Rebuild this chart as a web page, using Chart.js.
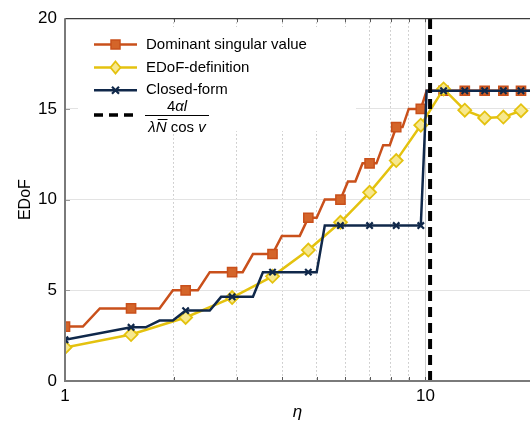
<!DOCTYPE html>
<html>
<head>
<meta charset="utf-8">
<script src="https://cdn.jsdelivr.net/npm/chart.js@4/dist/chart.umd.min.js"></script>
<style>
  html, body { margin: 0; padding: 0; background: #fff; overflow: hidden; }
  #wrap { width: 530px; height: 428px; }
</style>
</head>
<body>
<div id="wrap"><canvas id="edof" width="530" height="428"></canvas></div>
<script>
// Sample grid of eta values (shared by all series)
const ETA = [1.000, 1.121, 1.249, 1.384, 1.525, 1.674, 1.829, 1.992, 2.161, 2.337,
             2.521, 2.711, 2.908, 3.111, 3.322, 3.540, 3.764, 3.996, 4.234, 4.480,
             4.732, 4.991, 5.257, 5.530, 5.810, 6.096, 6.390, 6.691, 6.998, 7.312,
             7.634, 7.962, 8.297, 8.639, 8.988, 9.343, 9.706, 10.076, 10.452, 10.836,
             11.226, 11.623, 12.027, 12.438, 12.856, 13.281, 13.713, 14.152, 14.597, 15.050,
             15.509, 15.975, 16.449, 16.929, 17.416, 17.910, 18.410, 18.918, 19.433, 19.954,
             20.483];

// EDoF from the dominant singular values
const DOMINANT = [3, 3, 4, 4, 4, 4, 4, 5, 5, 5,
                  6, 6, 6, 6, 7, 7, 7, 8, 8, 8,
                  9, 9, 10, 10, 10, 11, 11, 12, 12, 12,
                  13, 13, 14, 14, 15, 15, 15, 16, 16, 16,
                  16, 16, 16, 16, 16, 16, 16, 16, 16, 16,
                  16, 16, 16, 16, 16, 16, 16, 16, 16, 16,
                  16];

// EDoF from its definition (evaluated every fourth grid point)
const EDOF_DEF = [1.85, null, null, null, 2.56, null, null, null, 3.5, null,
                  null, null, 4.6, null, null, null, 5.77, null, null, null,
                  7.22, null, null, null, 8.75, null, null, null, 10.4, null,
                  null, null, 12.15, null, null, null, 14.1, null, null, null,
                  16.1, null, null, null, 14.93, null, null, null, 14.5, null,
                  null, null, 14.55, null, null, null, 14.9, null, null, null,
                  15.45];

// Closed-form EDoF
const CLOSED_FORM = [2.27, null, null, null, 2.96, 2.96, 3.33, 3.33, 3.88, 3.88,
                     3.88, 4.64, 4.64, 4.64, 4.64, 6.0, 6.0, 6.0, 6.0, 6.0,
                     6.0, 6.0, 8.57, 8.57, 8.57, 8.57, 8.57, 8.57, 8.57, 8.57,
                     8.57, 8.57, 8.57, 8.57, 8.57, 8.57, 8.57, 16, 16, 16,
                     16, 16, 16, 16, 16, 16, 16, 16, 16, 16,
                     16, 16, 16, 16, 16, 16, 16, 16, 16, 16,
                     16];

// Aperture limit 4αl / (λN̄ cos v)
const LIMIT_ETA = 10.3;

const X_MIN = 1, X_MAX = 19.5;
const X_TICKS = [1, 2, 3, 4, 5, 6, 7, 8, 9, 10];
const X_LABELS = { 1: '1', 10: '10' };
const Y_TICKS = [0, 5, 10, 15, 20];

const SERIES_NAMES = ['Dominant singular value', 'EDoF-definition', 'Closed-form'];

const FONT = "'Liberation Sans', Arial, sans-serif";
const C_ORANGE = '#C9501B';
const C_ORANGE_FILL = '#D4652A';
const C_YELLOW = '#E4C20F';
const C_YELLOW_FILL = '#F7E88E';
const C_NAVY = '#10284A';
const MARK_EVERY = 4;

function toPoints(values) {
  return ETA.map((x, i) => ({ x: x, y: values[i] }));
}
function markerRadius(r) {
  return (ctx) => (ctx.dataIndex % MARK_EVERY === 0 ? r : 0);
}

// Box frame, inner tick marks
const framePlugin = {
  id: 'frame',
  afterDatasetsDraw(chart) {
    const { ctx, chartArea: a, scales } = chart;
    ctx.save();
    ctx.strokeStyle = '#5a5a5a';
    ctx.lineWidth = 1;
    X_TICKS.forEach(v => {
      if (v === 1) return;
      const px = Math.round(scales.x.getPixelForValue(v)) + 0.5;
      ctx.beginPath();
      ctx.moveTo(px, a.bottom); ctx.lineTo(px, a.bottom - 4);
      ctx.moveTo(px, a.top); ctx.lineTo(px, a.top + 4);
      ctx.stroke();
    });
    ctx.strokeStyle = '#9a9a9a';
    Y_TICKS.forEach(v => {
      if (v === 0 || v === 20) return;
      const py = Math.round(scales.y.getPixelForValue(v)) + 0.5;
      ctx.beginPath();
      ctx.moveTo(a.left, py); ctx.lineTo(a.left + 5, py);
      ctx.stroke();
    });
    ctx.strokeStyle = '#3c3c3c';
    ctx.lineWidth = 1.2;
    ctx.beginPath();
    ctx.moveTo(a.left, a.top + 0.5); ctx.lineTo(a.right, a.top + 0.5);
    ctx.stroke();
    ctx.strokeStyle = '#7a7a7a';
    ctx.lineWidth = 2;
    ctx.beginPath();
    ctx.moveTo(a.left, a.top); ctx.lineTo(a.left, a.bottom); ctx.lineTo(a.right, a.bottom);
    ctx.stroke();
    ctx.restore();
  }
};

// Legend inside the axes, including the formula entry
const boxLegendPlugin = {
  id: 'boxLegend',
  afterDraw(chart) {
    const c = chart.ctx;
    c.save();
    c.fillStyle = '#ffffff';
    c.fillRect(78, 27, 278, 104);

    const x0 = 94, x1 = 137, xm = 115.5, tx = 146;
    const rows = [44.5, 67.5, 90.3];
    const colors = [C_ORANGE, C_YELLOW, C_NAVY];
    c.lineWidth = 2.5;
    rows.forEach((y, i) => {
      c.strokeStyle = colors[i];
      c.setLineDash([]);
      c.beginPath(); c.moveTo(x0, y); c.lineTo(x1, y); c.stroke();
    });
    // square
    c.fillStyle = C_ORANGE_FILL; c.strokeStyle = C_ORANGE; c.lineWidth = 1.5;
    c.fillRect(xm - 4.5, rows[0] - 4.5, 9, 9); c.strokeRect(xm - 4.5, rows[0] - 4.5, 9, 9);
    // diamond
    c.fillStyle = C_YELLOW_FILL; c.strokeStyle = C_YELLOW; c.lineWidth = 1.8;
    c.beginPath();
    c.moveTo(xm, rows[1] - 6); c.lineTo(xm + 5, rows[1]); c.lineTo(xm, rows[1] + 6); c.lineTo(xm - 5, rows[1]);
    c.closePath(); c.fill(); c.stroke();
    // cross
    c.strokeStyle = C_NAVY; c.lineWidth = 2.2;
    c.beginPath();
    c.moveTo(xm - 3.5, rows[2] - 3.5); c.lineTo(xm + 3.5, rows[2] + 3.5);
    c.moveTo(xm + 3.5, rows[2] - 3.5); c.lineTo(xm - 3.5, rows[2] + 3.5);
    c.stroke();

    c.fillStyle = '#000';
    c.font = '15px ' + FONT;
    c.textBaseline = 'middle';
    c.textAlign = 'left';
    SERIES_NAMES.forEach((t, i) => c.fillText(t, tx, rows[i]));

    // dashed entry
    const yd = 115;
    c.strokeStyle = '#000'; c.lineWidth = 3.5;
    c.setLineDash([9, 6]);
    c.beginPath(); c.moveTo(x0, yd); c.lineTo(x1 + 1, yd); c.stroke();
    c.setLineDash([]);

    // fraction 4αl / (λN̄ cos v)
    const fx0 = 145, fx1 = 209, fc = (fx0 + fx1) / 2;
    c.lineWidth = 1; c.strokeStyle = '#000';
    c.beginPath(); c.moveTo(fx0, yd + 0.5); c.lineTo(fx1, yd + 0.5); c.stroke();
    c.textBaseline = 'alphabetic';
    const up = '15px ' + FONT, it = 'italic 15px ' + FONT;
    function run(parts, baseline) {
      let w = 0;
      parts.forEach(p => { c.font = p[1]; w += c.measureText(p[0]).width; });
      let x = fc - w / 2;
      const pos = [];
      parts.forEach(p => {
        c.font = p[1];
        c.fillText(p[0], x, baseline);
        const pw = c.measureText(p[0]).width;
        pos.push([x, pw]);
        x += pw;
      });
      return pos;
    }
    run([['4', up], ['αl', it]], yd - 4);
    const dp = run([['λ', it], ['N', it], [' cos ', up], ['v', it]], yd + 17);
    // bar over N
    c.beginPath();
    c.moveTo(dp[1][0] + 2, yd + 4.5); c.lineTo(dp[1][0] + dp[1][1] + 1, yd + 4.5);
    c.stroke();
    c.restore();
  }
};

const isEdgeTick = (v) => v === X_MIN || v === X_MAX;

new Chart(document.getElementById('edof'), {
  type: 'line',
  data: {
    datasets: [
      {
        label: '4αl/(λN̄ cos v)',
        data: [{ x: LIMIT_ETA, y: 0 }, { x: LIMIT_ETA, y: 20 }],
        borderColor: '#000', borderWidth: 4, borderDash: [10, 6],
        pointRadius: 0, fill: false
      },
      {
        label: SERIES_NAMES[2],
        data: toPoints(CLOSED_FORM), spanGaps: true,
        borderColor: C_NAVY, borderWidth: 2.5,
        pointStyle: 'crossRot', pointRadius: markerRadius(4.5),
        pointBorderColor: C_NAVY, pointBorderWidth: 2.2, pointBackgroundColor: C_NAVY
      },
      {
        label: SERIES_NAMES[1],
        data: toPoints(EDOF_DEF), spanGaps: true,
        borderColor: C_YELLOW, borderWidth: 2.5,
        pointStyle: 'rectRot', pointRadius: markerRadius(6.5),
        pointBorderColor: C_YELLOW, pointBorderWidth: 1.8, pointBackgroundColor: C_YELLOW_FILL
      },
      {
        label: SERIES_NAMES[0],
        data: toPoints(DOMINANT), spanGaps: true,
        borderColor: C_ORANGE, borderWidth: 2.5,
        pointStyle: 'rect', pointRadius: markerRadius(6.5),
        pointBorderColor: C_ORANGE, pointBorderWidth: 1.5, pointBackgroundColor: C_ORANGE_FILL
      }
    ]
  },
  options: {
    responsive: false,
    animation: false,
    devicePixelRatio: 1,
    elements: { line: { tension: 0 } },
    layout: { autoPadding: false, padding: { top: 16, right: 0, bottom: 0, left: 0 } },
    plugins: { legend: { display: false }, tooltip: { enabled: false } },
    scales: {
      x: {
        type: 'logarithmic',
        min: X_MIN, max: X_MAX,
        // minor ticks 2..9, plus an unlabelled tick at the right edge
        afterBuildTicks: (s) => {
          s.ticks = X_TICKS.concat([X_MAX]).map(v => ({ value: v, major: v in X_LABELS }));
        },
        afterFit: (s) => { s.height = 47; },
        ticks: {
          autoSkip: false, maxRotation: 0, padding: 0,
          color: '#000', font: { family: FONT, size: 17 },
          callback: (v) => X_LABELS[v] || ''
        },
        grid: {
          drawTicks: true, tickLength: 5, tickColor: 'rgba(0,0,0,0)', lineWidth: 1,
          color: (ctx) => (ctx.tick && isEdgeTick(ctx.tick.value) ? 'rgba(0,0,0,0)' :
                          (ctx.tick && ctx.tick.value === 10 ? '#cfcfcf' : '#c4c4c4'))
        },
        border: {
          display: false,
          dash: (ctx) => (ctx.tick && ctx.tick.value !== 10 ? [1.5, 2.5] : [])
        },
        title: {
          display: true, text: 'η', color: '#000',
          font: { family: FONT, size: 17, style: 'italic' },
          padding: { top: 0, bottom: 6 }
        }
      },
      y: {
        min: 0, max: 20,
        afterBuildTicks: (s) => { s.ticks = Y_TICKS.map(v => ({ value: v })); },
        afterFit: (s) => { s.width = 65; },
        ticks: { padding: 8, color: '#000', font: { family: FONT, size: 17 } },
        grid: {
          drawTicks: false, lineWidth: 1,
          color: (ctx) => (ctx.tick && (ctx.tick.value === 0 || ctx.tick.value === 20) ? 'rgba(0,0,0,0)' : '#e3e3e3')
        },
        border: { display: false },
        title: {
          display: true, text: 'EDoF', color: '#000',
          font: { family: FONT, size: 16 },
          padding: { top: 16, bottom: 0 }
        }
      }
    }
  },
  plugins: [framePlugin, boxLegendPlugin]
});
</script>
</body>
</html>
